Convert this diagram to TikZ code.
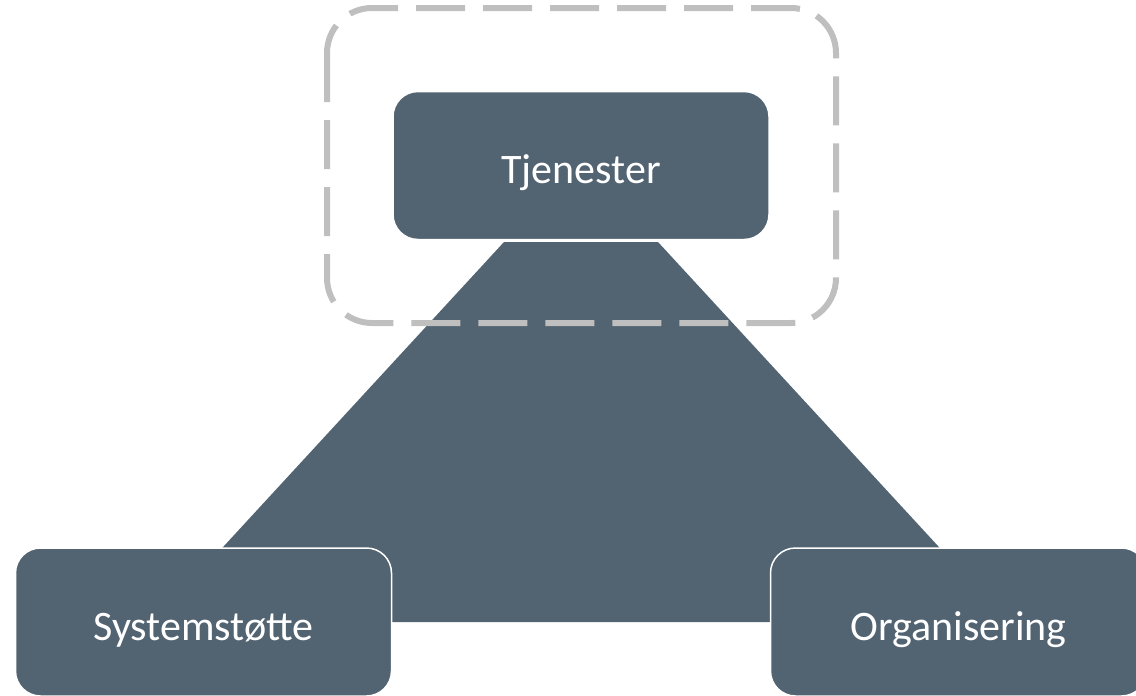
\documentclass[tikz,border=0pt]{standalone}
\usepackage{fontspec}
\setmainfont{Carlito}
\definecolor{slate}{RGB}{82,99,114}
\definecolor{dashgray}{RGB}{191,191,191}
\tikzset{
	pillar/.style={rectangle,rounded corners=25pt,draw=white,line width=1.5pt,fill=slate,text=white,minimum width=376pt,minimum height=148pt,text height=44pt,text depth=8pt,font=\fontsize{42}{50}\selectfont},
	focus/.style={draw=dashgray,line width=6pt,rounded corners=45pt,dash pattern=on 49pt off 18pt}
}

\begin{document}
\begin{tikzpicture}[x=1pt,y=-1pt]
		\useasboundingbox (0,0) rectangle (1136,696);
		\clip (0,0) rectangle (1136,696);
		
		% base shape
		\fill[slate] (504,242) -- (658,242) -- (1008,622) -- (154,622) -- cycle;
		
		\node[pillar] (tjenester) at (581,165.5) {Tjenester};
		\node[pillar] (system) at (203.5,622) {Systemstøtte};
		\node[pillar] (org) at (958.5,622) {Organisering};
		
		% highlight frame
		\draw[focus] (327,8) rectangle (836,323);
		
\end{tikzpicture}
\end{document}
